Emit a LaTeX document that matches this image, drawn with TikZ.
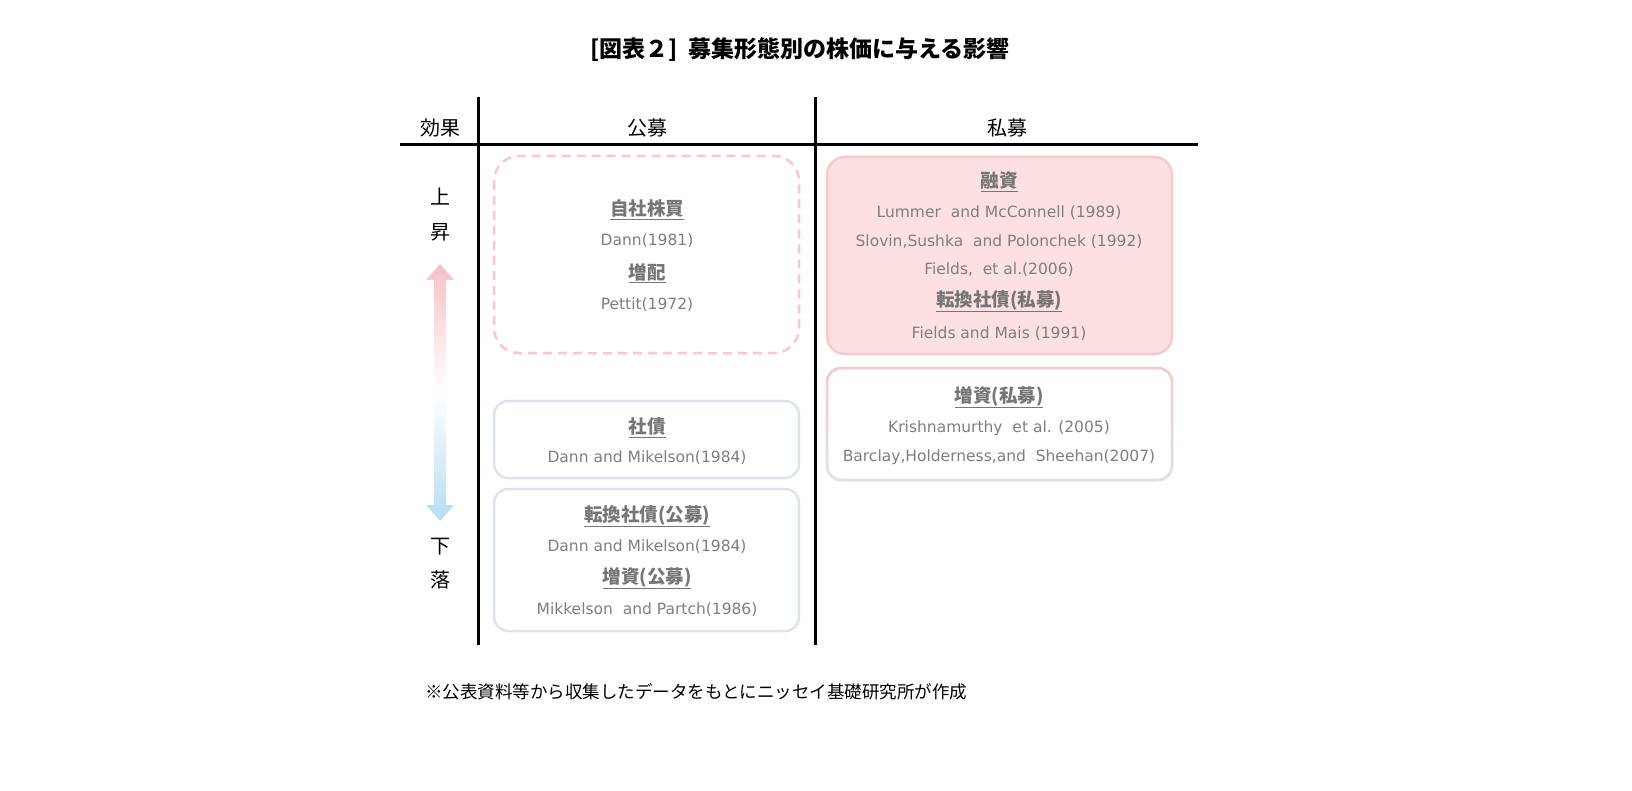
\documentclass[tikz,border=0pt]{standalone}
\usepackage{fontspec}
\setmainfont{DejaVu Sans}
\newfontfamily\jp{Noto Sans CJK JP}
\usetikzlibrary{fadings}
\definecolor{tg}{HTML}{7F7F7F}
\definecolor{hg}{HTML}{767676}
\definecolor{pk}{HTML}{F9C8CB}
\definecolor{pkf}{HTML}{FDE1E2}
\definecolor{bl}{HTML}{DCE4EF}
\definecolor{ab}{HTML}{B5DDF5}
\definecolor{ap}{HTML}{F9C0C4}
\begin{document}
\begin{tikzpicture}[x=1pt,y=-1pt,
  ref/.style={text=tg,font=\fontsize{15.5}{18}\selectfont,inner sep=0pt},
  hd/.style={text=hg,font=\jp\bfseries\fontsize{18.5}{20}\selectfont,inner sep=0pt},
  lab/.style={font=\jp\fontsize{20}{22}\selectfont,inner sep=0pt},
  boxb/.style={rounded corners=14pt,line width=2.5pt},
]
\useasboundingbox (0,0) rectangle (1632,791);
\fill[white] (0,0) rectangle (1632,791);
\node[font=\jp\bfseries\fontsize{23}{26}\selectfont] (title) at (800,50) {[図表２]\ \ 募集形態別の株価に与える影響};
% grid
\draw[line width=3pt] (400,145) -- (1198,145);
\draw[line width=3pt] (478,97) -- (478,645);
\draw[line width=3pt] (815,97) -- (815,645);
\node[lab] (h1) at (440,128) {効果};
\node[lab] (h2) at (647,128) {公募};
\node[lab] (h3) at (1007,128) {私募};
\node[lab] (u1) at (440,197) {上};
\node[lab] (u2) at (440,232) {昇};
\node[lab] (d1) at (440,547) {下};
\node[lab] (d2) at (440,580) {落};
% arrow
\shade[top color=ap,bottom color=ab,middle color=white]
 (440,264) -- (454,280) -- (446,280) -- (446,505) -- (454,505) -- (440,521)
 -- (426,505) -- (434,505) -- (434,280) -- (426,280) -- cycle;
% boxes
\draw[boxb,pk,dash pattern=on 9pt off 6pt,rounded corners=25pt] (494,156) rectangle (799,353);
\draw[boxb,bl] (494,401) rectangle (799,478);
\draw[boxb,bl] (494,489) rectangle (799,631);
\draw[boxb,pk,fill=pkf,rounded corners=18pt] (827,157) rectangle (1172,354);
\draw[boxb,pk] (827,368) rectangle (1172,480);
\draw[boxb,bl,path fading=north] (827,368) rectangle (1172,480);
% texts
\node[hd] (a1) at (647,210) {\underline{自社株買}};
\node[ref] (a2) at (647,241) {Dann(1981)};
\node[hd] (a3) at (647,273) {\underline{増配}};
\node[ref] (a4) at (647,305) {Pettit(1972)};
\node[hd] (b1) at (647,428) {\underline{社債}};
\node[ref] (b2) at (647,458) {Dann and Mikelson(1984)};
\node[hd] (c1) at (647,516) {\underline{転換社債(公募)}};
\node[ref] (c2) at (647,547) {Dann and Mikelson(1984)};
\node[hd] (c3) at (647,578) {\underline{増資(公募)}};
\node[ref] (c4) at (647,610) {Mikkelson\ \ and Partch(1986)};
\node[hd] (r1) at (999,182) {\underline{融資}};
\node[ref] (r2) at (999,213) {Lummer\ \ and McConnell (1989)};
\node[ref] (r3) at (999,242) {Slovin,Sushka\ \ and Polonchek (1992)};
\node[ref] (r4) at (999,270) {Fields,\ \ et al.(2006)};
\node[hd] (r5) at (999,301) {\underline{転換社債(私募)}};
\node[ref] (r6) at (999,334) {Fields and Mais (1991)};
\node[hd] (s1) at (999,397) {\underline{増資(私募)}};
\node[ref] (s2) at (999,428) {Krishnamurthy\ \ et al. (2005)};
\node[ref] (s3) at (999,457) {Barclay,Holderness,and\ \ Sheehan(2007)};
\node[anchor=west,inner sep=0pt,font=\jp\fontsize{17.5}{20}\selectfont] (fn) at (425,692) {※公表資料等から収集したデータをもとにニッセイ基礎研究所が作成};
\end{tikzpicture}
\end{document}
